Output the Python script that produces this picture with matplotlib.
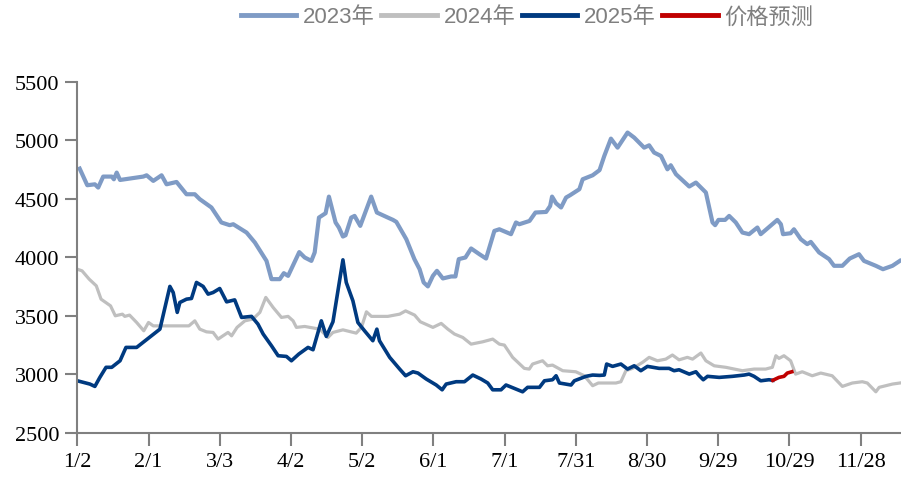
import matplotlib
matplotlib.use("Agg")
import matplotlib.pyplot as plt

# day offsets counted from 1/2, prices in yuan/ton
days_2023 = [1, 4.2, 7.4, 8.8, 10.9, 14.5, 15.4, 16.6, 18, 27.8, 29.2, 32, 35.5, 37.6, 41.8,
             46, 49.5, 51.6, 56.5, 60.7, 64.2, 65.7, 71.3, 74.8, 79.7, 81.8, 85.3, 87, 88.8,
             93.5, 95.8, 98.6, 100, 101.8, 104.6, 106, 108.8, 110.2, 111.9, 113, 115.4, 116.8,
             119.2, 123.8, 126.2, 130.8, 133, 134.4, 138.6, 142, 144.2, 145.9, 147.7, 149.8,
             151.5, 154, 157.5, 159.3, 160.7, 163.5, 165.9, 169.4, 172.2, 175.7, 177.8, 182.7,
             184.8, 186.2, 190.5, 193, 197.5, 199.2, 200, 201.7, 203.8, 205.9, 207.6, 211.5,
             212.9, 217.1, 220, 222, 224.8, 227.6, 231.8, 234.6, 238.8, 240.9, 243, 245.9,
             248.6, 250, 252.2, 257.8, 260.6, 264.8, 267.6, 268.7, 270.1, 272.9, 274.6, 277.4,
             280.2, 283, 286.5, 287.9, 294.9, 296.4, 297.3, 300.5, 301.9, 304.8, 307.5, 309,
             312.5, 316.7, 318.8, 322.3, 325.4, 329.3, 331.4, 336.4, 339.4, 343.4, 346.5]
price_2023 = [4758, 4616, 4624, 4596, 4690, 4690, 4667, 4724, 4661, 4690, 4701, 4653, 4701, 4624,
              4644, 4539, 4539, 4497, 4426, 4298, 4275, 4283, 4212, 4127, 3970, 3814, 3814, 3865,
              3842, 4045, 3999, 3970, 4042, 4340, 4377, 4519, 4298, 4255, 4178, 4189, 4340, 4354,
              4269, 4519, 4383, 4340, 4320, 4303, 4155, 3985, 3899, 3786, 3752, 3842, 3885, 3820,
              3837, 3837, 3985, 3999, 4076, 4027, 3990, 4226, 4240, 4198, 4298, 4283, 4311, 4383,
              4388, 4439, 4519, 4462, 4426, 4511, 4531, 4582, 4667, 4701, 4745, 4866, 5014, 4937,
              5066, 5023, 4937, 4957, 4895, 4866, 4752, 4787, 4710, 4605, 4639, 4554, 4298, 4275,
              4320, 4320, 4354, 4298, 4212, 4198, 4255, 4198, 4320, 4283, 4198, 4206, 4240, 4155,
              4113, 4132, 4042, 3985, 3928, 3928, 3990, 4027, 3970, 3928, 3899, 3928, 3970]

days_2024 = [0, 2, 5, 8, 10, 14, 16, 19, 20, 22, 25, 28, 30, 32, 47, 49.5, 51.6, 54.4, 57.2,
             59.3, 63.5, 65, 67.3, 70.6, 74, 76.9, 79.4, 82.5, 86, 88.8, 90.9, 92.3, 95.8, 102.1,
             105.6, 107.7, 111.9, 117.5, 119.7, 121.8, 123.9, 127.3, 130.8, 135.8, 138.3, 142.1,
             144.5, 149.8, 153.3, 156.1, 158.9, 162.4, 165.9, 170.8, 175, 177.8, 179.9, 183.4,
             188.3, 190.4, 191.8, 196, 198.1, 200.2, 204.5, 210, 213.6, 217.1, 219.5, 226.9, 229,
             231.1, 233.9, 238.1, 240.9, 244.4, 247.9, 250.7, 253.5, 257, 259.2, 262.7, 264.8,
             268.3, 273.2, 280.2, 285.1, 290, 292.8, 294.3, 295.6, 297.7, 300.5, 302.6, 305.4,
             309.6, 313.2, 318, 322.3, 326.5, 330.7, 332.8, 336.4, 337.8, 343.4, 346.5]
price_2024 = [3899, 3885, 3814, 3757, 3643, 3586, 3501, 3515, 3496, 3507, 3444, 3373, 3444, 3415,
              3415, 3458, 3387, 3364, 3359, 3302, 3359, 3330, 3402, 3458, 3473, 3530, 3658, 3572,
              3487, 3496, 3458, 3402, 3410, 3387, 3316, 3359, 3381, 3353, 3402, 3535, 3496, 3496,
              3496, 3515, 3543, 3507, 3450, 3402, 3436, 3387, 3345, 3316, 3259, 3279, 3302, 3259,
              3251, 3146, 3052, 3046, 3089, 3117, 3074, 3080, 3032, 3023, 2989, 2904, 2927, 2927,
              2938, 3032, 3052, 3103, 3146, 3117, 3131, 3166, 3125, 3146, 3131, 3183, 3117, 3074,
              3061, 3032, 3046, 3046, 3061, 3160, 3137, 3160, 3117, 3003, 3023, 2989, 3012, 2989,
              2898, 2927, 2938, 2927, 2852, 2890, 2918, 2927]

days_2025 = [0, 5.3, 7.4, 9.5, 12.1, 14.5, 18, 20.5, 25, 34.8, 39, 40.4, 42.1, 43.2, 46, 48.1,
             50.2, 53, 55.1, 57.2, 60, 62.9, 66.3, 69.2, 73.4, 76.1, 78.3, 81.8, 84.6, 88.1, 90.2,
             93.3, 97.2, 99.3, 102.8, 104.9, 107.7, 111.9, 113.3, 116.1, 118.2, 121, 124.5, 126.2,
             127.3, 131.6, 135.8, 138.3, 141.4, 143.5, 147, 151.2, 153.7, 155.4, 159.6, 163.1,
             166.6, 170.1, 172.9, 175, 178.5, 180.6, 184.1, 187.6, 189.7, 194.7, 196.8, 200.2,
             201.7, 203.1, 208, 209.4, 214.3, 217.1, 220, 222, 223, 225.5, 229, 231.8, 234.6,
             237.4, 240.2, 245.1, 249.3, 251.4, 253.5, 257.8, 260.6, 262, 263.7, 265.5, 270.4,
             276, 280.9, 283, 285.1, 287.9, 291.4, 293]
price_2025 = [2946, 2918, 2898, 2975, 3061, 3061, 3117, 3231, 3231, 3387, 3752, 3700, 3530, 3615,
              3643, 3649, 3786, 3752, 3686, 3700, 3734, 3620, 3637, 3487, 3496, 3430, 3345, 3245,
              3160, 3154, 3117, 3174, 3231, 3211, 3458, 3325, 3450, 3979, 3786, 3629, 3444, 3373,
              3288, 3387, 3288, 3146, 3046, 2989, 3023, 3012, 2961, 2910, 2869, 2918, 2938, 2938,
              2995, 2961, 2927, 2869, 2869, 2910, 2881, 2852, 2890, 2890, 2946, 2955, 2989, 2927,
              2910, 2946, 2984, 2995, 2992, 2995, 3089, 3069, 3089, 3046, 3074, 3032, 3069, 3052,
              3052, 3032, 3040, 3003, 3023, 2989, 2955, 2984, 2975, 2984, 2995, 3003, 2984, 2946,
              2955, 2950]

days_forecast = [293, 295.6, 297.7, 299.1, 301]
price_forecast = [2950, 2975, 2984, 3012, 3023]

tick_days = [0, 30, 60, 90, 120, 150, 180, 210, 240, 270, 300, 330]
tick_labels = ["1/2", "2/1", "3/3", "4/2", "5/2", "6/1", "7/1", "7/31", "8/30", "9/29", "10/29", "11/28"]
y_ticks = [2500, 3000, 3500, 4000, 4500, 5000, 5500]

fig = plt.figure(figsize=(9.01, 4.81), dpi=100)
ax = fig.add_axes([0.0858, 0.0977, 0.9142, 0.7303])

ax.plot(days_2023, price_2023, color="#7f9bc5", lw=3.0, label="2023年", solid_joinstyle="round")
ax.plot(days_2024, price_2024, color="#bfbfbf", lw=2.3, label="2024年", solid_joinstyle="round")
ax.plot(days_2025, price_2025, color="#003a80", lw=2.6, label="2025年", solid_joinstyle="round")
ax.plot(days_forecast, price_forecast, color="#c00000", lw=2.6, label="价格预测", solid_joinstyle="round")

ax.set_xlim(0, 347)
ax.set_ylim(2500, 5500)
ax.set_xticks(tick_days)
ax.set_xticklabels(tick_labels)
ax.set_yticks(y_ticks)

for side in ["top", "right"]:
    ax.spines[side].set_visible(False)
for side in ["left", "bottom"]:
    ax.spines[side].set_color("#808080")
    ax.spines[side].set_linewidth(1.5)

ax.tick_params(axis="both", direction="out", length=9, width=1.5, color="#808080",
               labelsize=16)
ax.tick_params(axis="y", pad=4)
ax.tick_params(axis="x", pad=5)
for lab in ax.get_xticklabels() + ax.get_yticklabels():
    lab.set_family("Liberation Serif")

leg = fig.legend(loc="center", bbox_to_anchor=(0.585, 0.963), ncol=4, frameon=False,
                 prop={"family": ["Liberation Sans", "Noto Sans CJK SC"], "size": 16},
                 handlelength=2.5, handletextpad=0.3, columnspacing=0.3)
for line in leg.get_lines():
    line.set_linewidth(3.5)
for txt in leg.get_texts():
    txt.set_color("#7f7f7f")

fig.savefig("out.png", dpi=100)
